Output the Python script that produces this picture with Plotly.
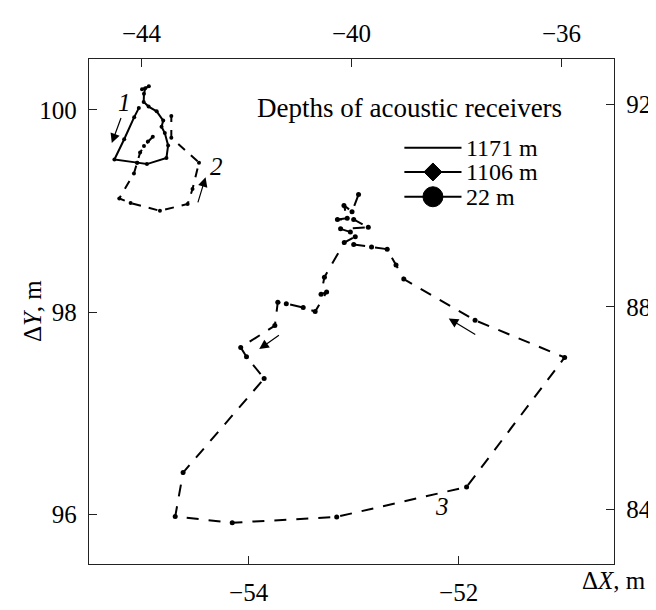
import plotly.graph_objects as go

# ---- Trajectory 3 (lower ΔX / left ΔY axes), m ----
traj3_x = [-52.953, -53.015, -53.092, -53.061, -53.154, -52.999, -52.860, -53.124, -53.031,
           -52.984, -53.089, -53.278, -53.310, -53.257, -53.366, -53.480, -53.641, -53.722,
           -53.750, -54.075, -54.020, -53.852, -54.624, -54.699, -54.156, -53.161, -51.924,
           -50.990, -51.843, -52.522, -52.596, -52.680, -52.829, -52.999]
traj3_y = [99.163, 98.994, 99.056, 98.929, 98.917, 98.917, 98.839, 98.824, 98.793,
           98.746, 98.688, 98.346, 98.176, 98.200, 98.006, 98.046, 98.084, 98.098,
           97.867, 97.651, 97.559, 97.343, 96.413, 95.978, 95.917, 95.975, 96.271,
           97.552, 97.920, 98.327, 98.466, 98.623, 98.645, 98.670]

# ---- Trajectory 1 (upper / right axes), m ----
traj1_x = [-44.051, -44.139, -44.330, -44.516, -44.083, -43.897, -43.525, -43.493, -43.556,
           -43.618, -43.586, -43.711, -43.865, -43.958, -43.953, -43.928, -43.860, -43.990]
traj1_y = [91.929, 91.750, 91.313, 90.914, 90.851, 90.822, 90.944, 91.191, 91.436,
           91.560, 91.682, 91.866, 91.959, 92.051, 92.212, 92.322, 92.359, 92.304]

# ---- Trajectory 2 (upper / right axes), m ----
traj2_x = [-43.785, -43.878, -43.953, -44.027, -44.083, -44.144, -44.423, -44.207, -43.649,
           -43.121, -43.028, -42.905, -43.432, -43.432]
traj2_y = [91.363, 91.270, 91.178, 91.049, 90.851, 90.637, 90.144, 90.052, 89.899,
           90.034, 90.329, 90.851, 91.344, 91.774]

x_ticks = [-54, -52]
y_ticks = [96, 98, 100]
x2_ticks = [-44, -40, -36]
y2_ticks = [84, 88, 92]

legend_title = "Depths of acoustic receivers"
legend_labels = ["1171 m", "1106 m", "22 m"]

FONT = "Liberation Serif"
AX = "#222"

fig = go.Figure()
fig.add_trace(go.Scatter(x=traj3_x, y=traj3_y, mode="lines+markers",
                         line=dict(color="black", width=2, dash="12px,10px"),
                         marker=dict(color="black", size=5), hoverinfo="skip"))
fig.add_trace(go.Scatter(x=traj1_x, y=traj1_y, mode="lines+markers", xaxis="x2", yaxis="y2",
                         line=dict(color="black", width=2),
                         marker=dict(color="black", size=4), hoverinfo="skip"))
fig.add_trace(go.Scatter(x=traj2_x, y=traj2_y, mode="lines+markers", xaxis="x2", yaxis="y2",
                         line=dict(color="black", width=2, dash="9px,8px"),
                         marker=dict(color="black", size=4), hoverinfo="skip"))

common = dict(ticks="inside", ticklen=8, tickwidth=1.2, tickcolor=AX, showline=True,
              linecolor=AX, linewidth=1.3, showgrid=False, zeroline=False,
              tickfont=dict(family=FONT, size=25, color="black"), ticklabelstandoff=6)

fig.update_layout(
    width=656, height=610,
    margin=dict(l=81, r=38, t=41, b=28),
    plot_bgcolor="white", paper_bgcolor="white",
    showlegend=False,
    font=dict(family=FONT, size=25, color="black"),
    xaxis=dict(range=[-55.52, -50.52], tickvals=x_ticks, **common),
    yaxis=dict(range=[95.509, 100.504], tickvals=y_ticks, **common),
    xaxis2=dict(range=[-45.0, -35.0], tickvals=x2_ticks, overlaying="x", side="top",
                anchor="y", **common),
    yaxis2=dict(range=[82.915, 92.90], tickvals=y2_ticks, overlaying="y", side="right",
                anchor="x", **common),
)

ann = []
# axis titles
ann.append(dict(text="Δ<i>Y</i>, m", xref="paper", yref="paper", x=-0.1074, y=0.50,
                textangle=-90, showarrow=False, font=dict(family=FONT, size=25),
                xanchor="center", yanchor="middle"))
ann.append(dict(text="Δ<i>X</i>, m", xref="paper", yref="paper", x=1.064, y=-0.033,
                showarrow=False, font=dict(family=FONT, size=25),
                xanchor="right", yanchor="middle"))
# arrows (head x,y ; tail ax,ay) in lower/left axis units
arrows = [(-55.303, 99.672, -55.210, 99.935),
          (-54.410, 99.334, -54.487, 99.071),
          (-52.094, 97.938, -51.827, 97.769),
          (-53.899, 97.635, -53.697, 97.781)]
for hx, hy, tx, ty in arrows:
    ann.append(dict(x=hx, y=hy, ax=tx, ay=ty, xref="x", yref="y", axref="x", ayref="y",
                    text="", showarrow=True, arrowhead=2, arrowsize=1.6, arrowwidth=1.2,
                    arrowcolor="black"))
# trajectory labels
for t, lx, ly in [("1", -55.185, 100.074), ("2", -54.301, 99.441), ("3", -52.159, 96.077)]:
    ann.append(dict(text=f"<i>{t}</i>", x=lx, y=ly, xref="x", yref="y", showarrow=False,
                    font=dict(family=FONT, size=25)))
# legend
ann.append(dict(text=legend_title, xref="paper", yref="paper", x=0.3166, y=0.9033,
                xanchor="left", yanchor="middle", showarrow=False,
                font=dict(family=FONT, size=27)))
leg_y = [0.8245, 0.7763, 0.7272]
for lab, yy in zip(legend_labels, leg_y):
    ann.append(dict(text=lab, xref="paper", yref="paper", x=0.7138, y=yy,
                    xanchor="left", yanchor="middle", showarrow=False,
                    font=dict(family=FONT, size=24)))
fig.update_layout(annotations=ann)

shapes = []
for yy in leg_y:
    shapes.append(dict(type="line", xref="paper", yref="paper", x0=0.6007, x1=0.7095,
                       y0=yy, y1=yy, line=dict(color="black", width=2)))
# diamond marker
shapes.append(dict(type="path", xref="paper", yref="paper", xsizemode="pixel",
                   ysizemode="pixel", xanchor=0.6551, yanchor=leg_y[1],
                   path="M-9,0 L0,9 L9,0 L0,-9 Z", fillcolor="black",
                   line=dict(color="black", width=1)))
# circle marker
shapes.append(dict(type="circle", xref="paper", yref="paper", xsizemode="pixel",
                   ysizemode="pixel", xanchor=0.6551, yanchor=leg_y[2],
                   x0=-10, x1=10, y0=-10, y1=10, fillcolor="black",
                   line=dict(color="black", width=1)))
fig.update_layout(shapes=shapes)

fig.write_html("out.html")
